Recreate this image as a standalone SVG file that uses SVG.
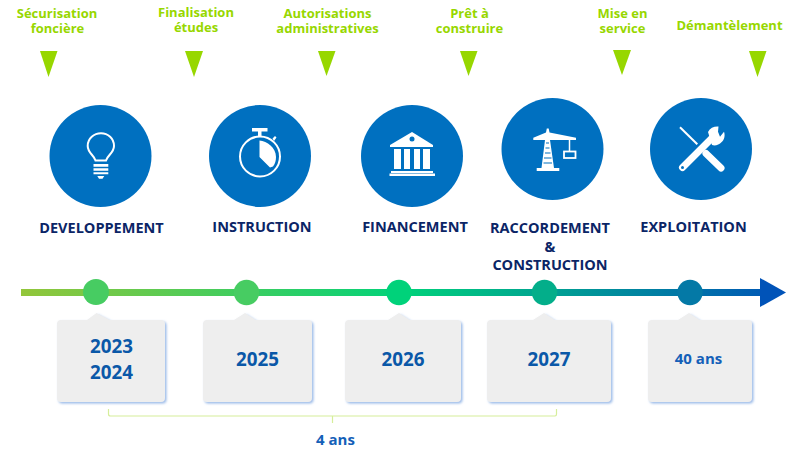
<svg xmlns="http://www.w3.org/2000/svg" width="794" height="458" viewBox="0 0 794 458">
<style>
text{font-family:"Open Sans","Noto Sans","Liberation Sans",sans-serif;text-anchor:middle}
.g{font-size:13px;font-weight:700;fill:#97d700}
.t{font-size:14.5px;font-weight:700;fill:#0b2566}
.y{font-size:18.800px;font-weight:700;fill:#0a58a8}
.s{font-size:15px;font-weight:700;fill:#1460b8}
.c{fill:#0070c0}
.tri{fill:#97d700}
.box{fill:#eeeeee;filter:url(#sh)}
.w{fill:none;stroke:#fff;stroke-width:2}
.f{fill:#fff}
.br{fill:none;stroke:#d6ee9a;stroke-width:1.2}
</style>
<defs>
<linearGradient id="lg" gradientUnits="userSpaceOnUse" x1="21" y1="0" x2="786" y2="0">
<stop offset="0" stop-color="#93c63a"/><stop offset="0.5" stop-color="#00d27a"/><stop offset="1" stop-color="#0053b8"/>
</linearGradient>
<filter id="sh" x="-10%" y="-10%" width="125%" height="125%"><feDropShadow dx="1.500" dy="1.500" stdDeviation="1.200" flood-color="#8fb2e6" flood-opacity="0.900"/></filter>
</defs>
<g id="connectors">
<rect x="21" y="289" width="740" height="7" fill="url(#lg)"/>
<polygon points="760,278 786,292.500 760,307" fill="#0053b8"/>
<path class="br" d="M108.500 409V414Q108.500 416 110.500 416H555Q556.500 416 556.500 414V409M332.500 416V423"/>
</g>
<g id="milestone-1"><text class="g" x="57" y="18">Sécurisation</text><text class="g" x="57.500" y="33">foncière</text><polygon class="tri" points="40,51 57.500,51 48.500,77"/></g>
<g id="milestone-2"><text class="g" x="196" y="17">Finalisation</text><text class="g" x="196" y="32">études</text><polygon class="tri" points="185,51 203,51 194,77"/></g>
<g id="milestone-3"><text class="g" x="327.500" y="18">Autorisations</text><text class="g" x="327.500" y="33">administratives</text><polygon class="tri" points="318,51 335.500,51 326.500,76"/></g>
<g id="milestone-4"><text class="g" x="469.500" y="18">Prêt à</text><text class="g" x="469.500" y="33">construire</text><polygon class="tri" points="460,51 477.500,51 468.500,76"/></g>
<g id="milestone-5"><text class="g" x="622.500" y="18">Mise en</text><text class="g" x="622.500" y="33">service</text><polygon class="tri" points="613,50 631,50 622,75"/></g>
<g id="milestone-6"><text class="g" x="729.500" y="30">Démantèlement</text><polygon class="tri" points="749,51 766.500,51 757.500,77"/></g>
<g id="phase-developpement">
<circle class="c" cx="100.500" cy="156" r="51"/>
<path class="w" d="M95.500 160.500C94 155 87.700 153 87.700 146C87.700 138.500 94 133.300 101 133.300C108 133.300 114 138.500 114 146C114 153 107.500 155 106 160.500Z"/>
<path class="f" d="M93.500 164H108.300V166.700H93.500ZM93.500 168.300H108.300V170.700H93.500ZM93.500 172.300H108.300V174.300H93.500ZM97.300 176H104.300L102.500 178.700H99Z"/>
<text class="t" x="101.500" y="233">DEVELOPPEMENT</text>
</g>
<g id="phase-instruction">
<circle class="c" cx="260" cy="156" r="51"/>
<circle class="w" cx="260" cy="156.500" r="20"/>
<path class="f" d="M252 128H267.500V131.500H261.500V136H258V131.500H252ZM259.500 140.500C267 141 276 147.500 276 157C276 161 275 164 273 166.500L270 167.500L259.500 157ZM272.500 138.500L275 136L276.500 137.500L274 141Z"/>
<text class="t" x="262" y="232">INSTRUCTION</text>
</g>
<g id="phase-financement">
<circle class="c" cx="412" cy="156" r="51"/>
<path class="f" d="M412 132L433 145V147H390V145Z"/>
<path class="f" d="M394 149H401V169H394ZM404 149H410V169H404ZM414 149H420V169H414ZM423 149H430V169H423ZM391 171H433V173H391ZM389.500 173.500H435V176H389.500Z"/>
<circle class="c" cx="412" cy="139" r="2.500"/>
<text class="t" x="415" y="232">FINANCEMENT</text>
</g>
<g id="phase-raccordement">
<circle class="c" cx="552.500" cy="149" r="51"/>
<path class="f" d="M546.800 128.500H548.700L549.500 132.500L576 137.700V140H550V140L554 168H559.300V171H536.700V168H541.500L545 140H533.300V137.700L546 132.500Z"/>
<path d="M546 143H549M545.500 148H549.500M545 153H550.500M544 158H551.500M543.500 163H552" fill="none" stroke="#0070c0" stroke-width="1.200"/>
<path d="M569.500 140V151" fill="none" stroke="#fff" stroke-width="1.500"/>
<rect x="564" y="151.500" width="11.500" height="6.500" fill="none" stroke="#fff" stroke-width="1.800"/>
<text class="t" x="550" y="233">RACCORDEMENT</text>
<text class="t" x="550" y="252">&amp;</text>
<text class="t" x="550" y="270">CONSTRUCTION</text>
</g>
<g id="phase-exploitation">
<circle class="c" cx="701" cy="149" r="51"/>
<path d="M680 127.300L697.300 144.300" fill="none" stroke="#fff" stroke-width="2"/>
<path d="M706 153.500L721 168" fill="none" stroke="#fff" stroke-width="7" stroke-linecap="round"/>
<path d="M682.500 167.500L713.300 136.700" fill="none" stroke="#fff" stroke-width="7" stroke-linecap="round"/>
<path class="f" d="M708 132C710 128 714 126.200 718.500 126.500L718 131.700L720 136.700L724 131.700C725.500 136 724 140 721.700 142C719 145 715 146 712 145Z"/>
<circle class="c" cx="682.500" cy="167.500" r="1.500"/>
<text class="t" x="693.500" y="232">EXPLOITATION</text>
</g>
<g id="dot-1"><circle cx="96" cy="292" r="13" fill="#47cc62"/></g>
<g id="dot-2"><circle cx="246.500" cy="292.500" r="12.700" fill="#47cc62"/></g>
<g id="dot-3"><circle cx="399" cy="292.500" r="12.700" fill="#00d27a"/></g>
<g id="dot-4"><circle cx="544.500" cy="292.500" r="12.700" fill="#03ae8a"/></g>
<g id="dot-5"><circle cx="690" cy="292.500" r="12.700" fill="#0479a6"/></g>
<g id="box-2023"><path class="box" d="M61 320H87L96.500 313L110 320H161Q165 320 165 324V398Q165 402 161 402H61Q57 402 57 398V324Q57 320 61 320Z"/><text class="y" x="111.500" y="353">2023</text><text class="y" x="111.500" y="379">2024</text></g>
<g id="box-2025"><path class="box" d="M207 320H234L245 313L256 320H308Q312 320 312 324V398Q312 402 308 402H207Q203 402 203 398V324Q203 320 207 320Z"/><text class="y" x="257.500" y="366">2025</text></g>
<g id="box-2026"><path class="box" d="M349 320H388L399 313L410 320H457Q461 320 461 324V398Q461 402 457 402H349Q345 402 345 398V324Q345 320 349 320Z"/><text class="y" x="403" y="366">2026</text></g>
<g id="box-2027"><path class="box" d="M491 320H533L544 313L555 320H607Q611 320 611 324V398Q611 402 607 402H491Q487 402 487 398V324Q487 320 491 320Z"/><text class="y" x="549" y="366">2027</text></g>
<g id="box-40"><path class="box" d="M652 320H678L689 313L700 320H748Q752 320 752 324V398Q752 402 748 402H652Q648 402 648 398V324Q648 320 652 320Z"/><text class="s" x="698.500" y="364">40 ans</text></g>
<text class="s" x="335.500" y="445">4 ans</text>
</svg>
